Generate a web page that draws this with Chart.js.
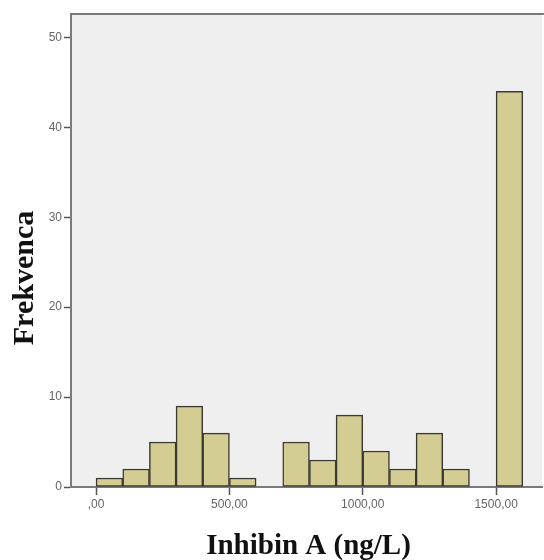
<!DOCTYPE html>
<html lang="sl">

<head>
  <meta charset="UTF-8" />
  <title>Inhibin A histogram</title>
  <script src="https://cdn.jsdelivr.net/npm/chart.js"></script>
  <style>
    html,
    body {
      margin: 0;
      padding: 0;
      background: #fff;
    }

    .chart-wrapper {
      width: 544px;
      height: 560px;
    }
  </style>
</head>

<body>
  <div class="chart-wrapper">
    <canvas id="chart"></canvas>
  </div>

  <script>
    // histogram bins (lower edge, ng/L) and frequencies
    const binStarts = [0, 100, 200, 300, 400, 500, 600, 700, 800, 900, 1000, 1100, 1200, 1300, 1400, 1500];
    const counts = [1, 2, 5, 9, 6, 1, 0, 5, 3, 8, 4, 2, 6, 2, 0, 44];
    const binWidth = 100;
    const xTicks = [0, 500, 1000, 1500];
    const yTicks = [0, 10, 20, 30, 40, 50];
    const xTitle = "Inhibin A (ng/L)";
    const yTitle = "Frekvenca";

    const fmt = (v) => (v === 0 ? ",00" : v + ",00");

    // plot background, top frame line and axis titles
    const frame = {
      id: "frame",
      beforeDraw(chart) {
        const { ctx, chartArea: a } = chart;
        ctx.save();
        ctx.fillStyle = "#efefef";
        ctx.fillRect(a.left, a.top, a.right - a.left, a.bottom - a.top);
        ctx.strokeStyle = "#7a7a7a";
        ctx.lineWidth = 2;
        ctx.beginPath();
        ctx.moveTo(a.left, a.top);
        ctx.lineTo(a.right + 2, a.top);
        ctx.stroke();
        ctx.restore();
      },
      afterDraw(chart) {
        const { ctx, chartArea: a } = chart;
        ctx.save();
        ctx.fillStyle = "#111";
        ctx.font = "bold 29px 'Liberation Serif'";
        ctx.textAlign = "center";
        ctx.textBaseline = "alphabetic";
        ctx.fillText(xTitle, (a.left + a.right) / 2 + 2, 554);
        ctx.translate(33, 278);
        ctx.rotate(-Math.PI / 2);
        ctx.font = "bold 30px 'Liberation Serif'";
        ctx.fillText(yTitle, 0, 0);
        ctx.restore();
      },
    };

    new Chart(document.getElementById("chart"), {
      type: "bar",
      data: {
        datasets: [
          {
            label: yTitle,
            data: binStarts.map((b, i) => ({ x: b + binWidth / 2, y: counts[i] })),
            backgroundColor: "#d3cd94",
            borderColor: "#3b3a32",
            borderWidth: 1.5,
            borderSkipped: false,
            barPercentage: 1,
            categoryPercentage: 1,
          },
        ],
      },
      options: {
        animation: false,
        responsive: true,
        maintainAspectRatio: false,
        layout: { padding: { top: 14, right: 2, left: 0, bottom: 0 } },
        plugins: {
          legend: { display: false },
          tooltip: { enabled: false },
        },
        scales: {
          x: {
            type: "linear",
            offset: false,
            min: -94,
            max: 1672,
            afterBuildTicks: (s) => {
              s.ticks = xTicks.map((v) => ({ value: v }));
            },
            afterFit: (s) => {
              s.height = 73;
            },
            border: { color: "#7a7a7a", width: 2 },
            grid: {
              offset: false,
              drawOnChartArea: false,
              drawTicks: true,
              tickLength: 8,
              tickColor: "#555",
              tickWidth: 1.5,
            },
            ticks: {
              padding: 2,
              color: "#666",
              font: { family: "Arial, 'Liberation Sans'", size: 12 },
              maxRotation: 0,
              callback: (v) => fmt(v),
            },
          },
          y: {
            min: 0,
            max: 52.6,
            afterBuildTicks: (s) => {
              s.ticks = yTicks.map((v) => ({ value: v }));
            },
            afterFit: (s) => {
              s.width = 71;
            },
            border: { color: "#7a7a7a", width: 2 },
            grid: {
              drawOnChartArea: false,
              drawTicks: true,
              tickLength: 7,
              tickColor: "#555",
              tickWidth: 1.5,
            },
            ticks: {
              padding: 2,
              color: "#666",
              font: { family: "Arial, 'Liberation Sans'", size: 12 },
            },
          },
        },
      },
      plugins: [frame],
    });
  </script>
</body>

</html>
